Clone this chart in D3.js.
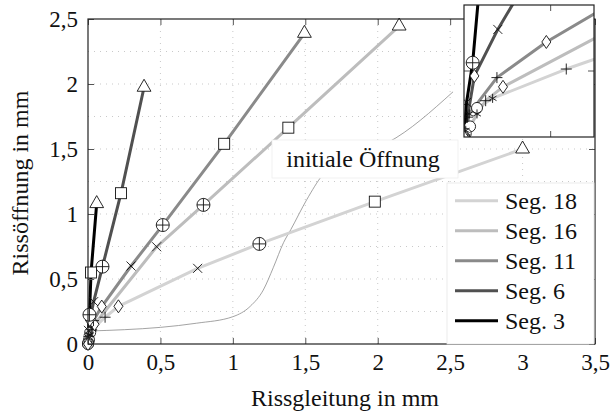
<!DOCTYPE html>
<html>
<head>
<meta charset="utf-8">
<title>Rissöffnung über Rissgleitung</title>
<script src="https://d3js.org/d3.v7.min.js"></script>
<style>
  body { margin: 0; background: #fff; }
</style>
</head>
<body>
<div id="chart"></div>
<script>
// ---- data ----
var segNames = ["Seg. 18", "Seg. 16", "Seg. 11", "Seg. 6", "Seg. 3"];
// one marker per load step, same order for every segment
var markTypes = ["o", "*", "+", "diamond", "x", "oplus", "square", "triangle"];

var seg18X = [0.015, 0.033, 0.118, 0.21, 0.757, 1.183, 1.98, 3.0];
var seg18Y = [0.088, 0.117, 0.206, 0.29, 0.582, 0.77, 1.095, 1.5];
var seg16X = [0.007, 0.015, 0.025, 0.045, 0.474, 0.797, 1.383, 2.148];
var seg16Y = [0.032, 0.07, 0.11, 0.152, 0.748, 1.07, 1.664, 2.446];
var seg11X = [0.002, 0.006, 0.038, 0.095, 0.297, 0.516, 0.94, 1.494];
var seg11Y = [0.01, 0.07, 0.18, 0.288, 0.60, 0.915, 1.54, 2.39];
var seg6X = [0.0, 0.002, 0.004, 0.012, 0.039, 0.10, 0.228, 0.387];
var seg6Y = [0.0, 0.02, 0.06, 0.185, 0.326, 0.595, 1.16, 1.975];
var seg3X = [0.0, 0.0, 0.001, 0.0, 0.003, 0.01, 0.021, 0.06];
var seg3Y = [0.0, 0.003, 0.006, 0.0, 0.105, 0.225, 0.55, 1.08];

// thin curve "initiale Öffnung"
var initX = [0, 0.25, 0.5, 0.75, 1.0, 1.12, 1.21, 1.28, 1.35, 1.40, 1.51, 1.62, 1.85, 2.07, 2.52];
var initY = [0.1, 0.11, 0.128, 0.16, 0.21, 0.29, 0.415, 0.59, 0.78, 0.88, 1.11, 1.3, 1.45, 1.55, 1.94];

var xTicks = [0, 0.5, 1, 1.5, 2, 2.5, 3, 3.5];
var xTickLabels = ["0", "0,5", "1", "1,5", "2", "2,5", "3", "3,5"];
var yTicks = [0, 0.5, 1, 1.5, 2, 2.5];
var yTickLabels = ["0", "0,5", "1", "1,5", "2", "2,5"];
var yGrid = [0.25, 0.5, 0.75, 1, 1.25, 1.5, 1.75, 2, 2.25];

// styles
var segColors = ["#d3d3d3", "#bdbdbd", "#8a8a8a", "#505050", "#000000"];
var FONT = "'Liberation Serif', 'Times New Roman', serif";

var segX = [seg18X, seg16X, seg11X, seg6X, seg3X];
var segY = [seg18Y, seg16Y, seg11Y, seg6Y, seg3Y];
var series = segNames.map(function (name, i) {
    return {
        name: name,
        color: segColors[i],
        pts: segX[i].map(function (v, j) { return { x: v, y: segY[i][j], m: markTypes[j] }; })
    };
});
var initPts = initX.map(function (v, i) { return { x: v, y: initY[i] }; });

// ---- chart ----
var W = 611, H = 414;
var svg = d3.select("#chart").append("svg")
    .attr("width", W).attr("height", H)
    .attr("font-family", FONT);

var x = d3.scaleLinear().domain([0, 3.5]).range([88, 595]);
var y = d3.scaleLinear().domain([0, 2.5]).range([344, 19]);

// grid
svg.append("g").selectAll("line").data(xTicks.slice(1, -1)).enter().append("line")
    .attr("x1", function (d) { return x(d); }).attr("x2", function (d) { return x(d); })
    .attr("y1", y(0)).attr("y2", y(2.5))
    .attr("stroke", "#bbb").attr("stroke-width", 0.8).attr("stroke-dasharray", "1,5");
svg.append("g").selectAll("line").data(yGrid).enter().append("line")
    .attr("x1", x(0)).attr("x2", x(3.5))
    .attr("y1", function (d) { return y(d); }).attr("y2", function (d) { return y(d); })
    .attr("stroke", "#bbb").attr("stroke-width", 0.8).attr("stroke-dasharray", "1,5");

// thin initial opening curve
svg.append("path").datum(initPts)
    .attr("fill", "none").attr("stroke", "#8c8c8c").attr("stroke-width", 0.8)
    .attr("d", d3.line().x(function (d) { return x(d.x); }).y(function (d) { return y(d.y); }).curve(d3.curveMonotoneX));

// marker drawing
function drawMark(g, type, px, py) {
    var s = g.append("g").attr("transform", "translate(" + px + "," + py + ")")
        .attr("stroke", "#111").attr("stroke-width", 0.9).attr("fill", "#fff");
    if (type === "o") {
        s.append("circle").attr("r", 5.5);
    } else if (type === "oplus") {
        s.append("circle").attr("r", 6.5);
        s.append("path").attr("d", "M-6.5,0H6.5M0,-6.5V6.5");
    } else if (type === "*") {
        s.append("path").attr("d", "M0,-4.5V4.5M-3.9,-2.25L3.9,2.25M-3.9,2.25L3.9,-2.25");
    } else if (type === "+") {
        s.append("path").attr("d", "M-5.5,0H5.5M0,-5.5V5.5");
    } else if (type === "x") {
        s.append("path").attr("d", "M-4.5,-4.5L4.5,4.5M-4.5,4.5L4.5,-4.5");
    } else if (type === "diamond") {
        s.append("path").attr("d", "M0,-6.5L4.5,0L0,6.5L-4.5,0Z");
    } else if (type === "square") {
        s.append("rect").attr("x", -5.5).attr("y", -5.5).attr("width", 11).attr("height", 11);
    } else if (type === "triangle") {
        s.append("path").attr("d", "M0,-8L6.9,4L-6.9,4Z");
    }
}

function drawSeries(g, sx, sy) {
    var line = d3.line().x(function (d) { return sx(d.x); }).y(function (d) { return sy(d.y); });
    series.forEach(function (s) {
        g.append("path").datum(s.pts)
            .attr("fill", "none").attr("stroke", s.color).attr("stroke-width", 3)
            .attr("stroke-linejoin", "round").attr("stroke-linecap", "round")
            .attr("d", line);
    });
    series.forEach(function (s) {
        s.pts.forEach(function (p) { drawMark(g, p.m, sx(p.x), sy(p.y)); });
    });
}

drawSeries(svg.append("g"), x, y);

// axes: ticks pointing inward on all sides
var tickColor = "#555";
var xb = svg.append("g").attr("transform", "translate(0," + y(0) + ")")
    .call(d3.axisBottom(x).tickValues(xTicks).tickFormat(function (d, i) { return xTickLabels[i]; })
        .tickSizeInner(-6).tickSizeOuter(0).tickPadding(10));
var xt = svg.append("g").attr("transform", "translate(0," + y(2.5) + ")")
    .call(d3.axisTop(x).tickValues(xTicks).tickFormat("").tickSizeInner(-6).tickSizeOuter(0));
var yl = svg.append("g").attr("transform", "translate(" + x(0) + ",0)")
    .call(d3.axisLeft(y).tickValues(yTicks).tickFormat(function (d, i) { return yTickLabels[i]; })
        .tickSizeInner(-6).tickSizeOuter(0).tickPadding(10));
var yr = svg.append("g").attr("transform", "translate(" + x(3.5) + ",0)")
    .call(d3.axisRight(y).tickValues(yTicks).tickFormat("").tickSizeInner(-6).tickSizeOuter(0));
[xb, xt, yl, yr].forEach(function (a) {
    a.attr("font-family", FONT);
    a.select(".domain").remove();
    a.selectAll(".tick line").attr("stroke", tickColor);
    a.selectAll("text").style("font-size", "23px").style("font-family", FONT).attr("fill", "#111");
});

// frame
svg.append("rect").attr("x", x(0)).attr("y", y(2.5))
    .attr("width", x(3.5) - x(0)).attr("height", y(0) - y(2.5))
    .attr("fill", "none").attr("stroke", "#222").attr("stroke-width", 1.2);

function label(sel) {
    return sel.style("font-family", FONT).style("font-size", "24px").attr("fill", "#111");
}

// axis titles
label(svg.append("text").attr("x", 345).attr("y", 406).attr("text-anchor", "middle"))
    .text("Rissgleitung in mm");
label(svg.append("text").attr("transform", "translate(28,183) rotate(-90)").attr("text-anchor", "middle"))
    .text("Rissöffnung in mm");

// annotation box
svg.append("rect").attr("x", 272).attr("y", 140).attr("width", 186).attr("height", 38)
    .attr("fill", "#fff").attr("stroke", "#eee").attr("stroke-width", 0.8);
label(svg.append("text").attr("x", 363).attr("y", 167).attr("text-anchor", "middle"))
    .text("initiale Öffnung");

// legend
var lg = svg.append("g");
lg.append("rect").attr("x", 447).attr("y", 183).attr("width", 147).attr("height", 161)
    .attr("fill", "#fff").attr("stroke", "#e6e6e6").attr("stroke-width", 0.8);
series.forEach(function (s, i) {
    var ly = 200.7 + i * 30;
    lg.append("line").attr("x1", 455).attr("x2", 498).attr("y1", ly).attr("y2", ly)
        .attr("stroke", s.color).attr("stroke-width", 3);
    label(lg.append("text").attr("x", 505).attr("y", ly).attr("dy", "0.35em"))
        .text(s.name);
});

// inset: zoom on the origin region
var ix = d3.scaleLinear().domain([0, 0.15]).range([464, 594]);
var iy = d3.scaleLinear().domain([0, 0.4]).range([137, 5]);
var inset = svg.append("g");
inset.append("rect").attr("x", 464).attr("y", 5).attr("width", 130).attr("height", 132).attr("fill", "#fff");
svg.append("clipPath").attr("id", "insetClip")
    .append("rect").attr("x", 464).attr("y", 5).attr("width", 130).attr("height", 132);
drawSeries(inset.append("g").attr("clip-path", "url(#insetClip)"), ix, iy);
[[ix(0.1), 137, ix(0.1), 131], [ix(0.1), 5, ix(0.1), 11], [464, iy(0.2), 470, iy(0.2)], [594, iy(0.2), 588, iy(0.2)]]
    .forEach(function (t) {
        inset.append("line").attr("x1", t[0]).attr("y1", t[1]).attr("x2", t[2]).attr("y2", t[3])
            .attr("stroke", tickColor);
    });
inset.append("rect").attr("x", 464).attr("y", 5).attr("width", 130).attr("height", 132)
    .attr("fill", "none").attr("stroke", "#222").attr("stroke-width", 1.2);
</script>
</body>
</html>
